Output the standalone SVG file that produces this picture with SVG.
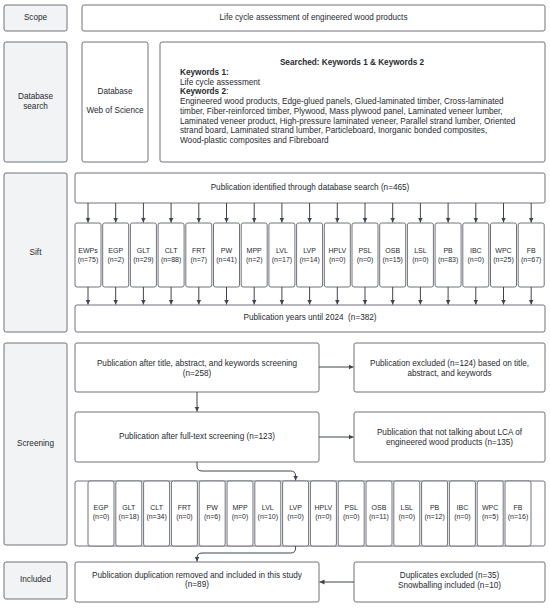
<svg xmlns="http://www.w3.org/2000/svg" width="550" height="608" viewBox="0 0 550 608">
<style>
.lbl{fill:#f2f3f5;stroke:#6e737b;stroke-width:1}
.box{fill:#ffffff;stroke:#6e737b;stroke-width:1}
text{font-family:"Liberation Sans",Arial,sans-serif;fill:#262a30;font-size:8.2px}
.c{text-anchor:middle}
.s{font-size:7px}
.b{font-weight:bold}
.ln{fill:none;stroke:#3f444c;stroke-width:1}
</style>
<defs>
<marker id="ah" markerWidth="6" markerHeight="6" refX="5" refY="3" orient="auto" markerUnits="userSpaceOnUse">
<path d="M0,0.5 L5,3 L0,5.5 Z" fill="#3f444c"/>
</marker>
</defs>
<rect width="550" height="608" fill="#ffffff"/>

<g id="scope-label"><rect class="lbl" x="4" y="5" width="63" height="26" rx="2"/><text class="c" x="35.5" y="19.5">Scope</text></g>
<g id="scope"><rect class="box" x="82" y="5" width="463" height="26" rx="2"/><text class="c" x="313.5" y="19.5">Life cycle assessment of engineered wood products</text></g>

<g id="db-label"><rect class="lbl" x="4" y="42" width="63" height="120" rx="2"/><text class="c" x="35.5" y="99">Database</text><text class="c" x="35.5" y="109">search</text></g>
<g id="database"><rect class="box" x="82" y="42" width="66" height="120" rx="2"/><text class="c" x="115" y="94">Database</text><text class="c" x="115" y="113">Web of Science</text></g>
<g id="keywords"><rect class="box" x="160" y="42" width="385" height="120" rx="2"/>
<text class="c b" x="352" y="64.5">Searched: Keywords 1 &amp; Keywords 2</text>
<text class="b" x="180" y="75">Keywords 1:</text>
<text x="180" y="84.7">Life cycle assessment</text>
<text x="180" y="94.4"><tspan class="b">Keywords 2</tspan>:</text>
<text x="180" y="104.1">Engineered wood products, Edge-glued panels, Glued-laminated timber, Cross-laminated</text>
<text x="180" y="113.8">timber, Fiber-reinforced timber, Plywood, Mass plywood panel, Laminated veneer lumber,</text>
<text x="180" y="123.5">Laminated veneer product, High-pressure laminated veneer, Parallel strand lumber, Oriented</text>
<text x="180" y="133.2">strand board, Laminated strand lumber, Particleboard, Inorganic bonded composites,</text>
<text x="180" y="142.9">Wood-plastic composites and Fibreboard</text>
</g>

<g id="sift-label"><rect class="lbl" x="4" y="173" width="63" height="159" rx="2"/><text class="c" x="35.5" y="255">Sift</text></g>
<g id="identified"><rect class="box" x="75" y="173" width="470" height="30" rx="2"/><text class="c" x="310" y="190">Publication identified through database search (n=465)</text></g>
<g id="years"><rect class="box" x="75" y="305" width="470" height="27" rx="2"/><text class="c" x="310" y="320" style="white-space:pre">Publication years until 2024  (n=382)</text></g>

<g id="sift-products">
<g id="s-ewps"><rect class="box" x="75" y="223" width="26" height="64" rx="2"/><text class="c s" x="88" y="252.5">EWPs</text><text class="c s" x="88" y="261.8">(n=75)</text></g>
<g id="s-egp"><rect class="box" x="102.7" y="223" width="26" height="64" rx="2"/><text class="c s" x="115.7" y="252.5">EGP</text><text class="c s" x="115.7" y="261.8">(n=2)</text></g>
<g id="s-glt"><rect class="box" x="130.4" y="223" width="26" height="64" rx="2"/><text class="c s" x="143.4" y="252.5">GLT</text><text class="c s" x="143.4" y="261.8">(n=29)</text></g>
<g id="s-clt"><rect class="box" x="158.1" y="223" width="26" height="64" rx="2"/><text class="c s" x="171.1" y="252.5">CLT</text><text class="c s" x="171.1" y="261.8">(n=88)</text></g>
<g id="s-frt"><rect class="box" x="185.8" y="223" width="26" height="64" rx="2"/><text class="c s" x="198.8" y="252.5">FRT</text><text class="c s" x="198.8" y="261.8">(n=7)</text></g>
<g id="s-pw"><rect class="box" x="213.5" y="223" width="26" height="64" rx="2"/><text class="c s" x="226.5" y="252.5">PW</text><text class="c s" x="226.5" y="261.8">(n=41)</text></g>
<g id="s-mpp"><rect class="box" x="241.2" y="223" width="26" height="64" rx="2"/><text class="c s" x="254.2" y="252.5">MPP</text><text class="c s" x="254.2" y="261.8">(n=2)</text></g>
<g id="s-lvl"><rect class="box" x="268.9" y="223" width="26" height="64" rx="2"/><text class="c s" x="281.9" y="252.5">LVL</text><text class="c s" x="281.9" y="261.8">(n=17)</text></g>
<g id="s-lvp"><rect class="box" x="296.6" y="223" width="26" height="64" rx="2"/><text class="c s" x="309.6" y="252.5">LVP</text><text class="c s" x="309.6" y="261.8">(n=14)</text></g>
<g id="s-hplv"><rect class="box" x="324.3" y="223" width="26" height="64" rx="2"/><text class="c s" x="337.3" y="252.5">HPLV</text><text class="c s" x="337.3" y="261.8">(n=0)</text></g>
<g id="s-psl"><rect class="box" x="352" y="223" width="26" height="64" rx="2"/><text class="c s" x="365" y="252.5">PSL</text><text class="c s" x="365" y="261.8">(n=0)</text></g>
<g id="s-osb"><rect class="box" x="379.7" y="223" width="26" height="64" rx="2"/><text class="c s" x="392.7" y="252.5">OSB</text><text class="c s" x="392.7" y="261.8">(n=15)</text></g>
<g id="s-lsl"><rect class="box" x="407.4" y="223" width="26" height="64" rx="2"/><text class="c s" x="420.4" y="252.5">LSL</text><text class="c s" x="420.4" y="261.8">(n=0)</text></g>
<g id="s-pb"><rect class="box" x="435.1" y="223" width="26" height="64" rx="2"/><text class="c s" x="448.1" y="252.5">PB</text><text class="c s" x="448.1" y="261.8">(n=83)</text></g>
<g id="s-ibc"><rect class="box" x="462.8" y="223" width="26" height="64" rx="2"/><text class="c s" x="475.8" y="252.5">IBC</text><text class="c s" x="475.8" y="261.8">(n=0)</text></g>
<g id="s-wpc"><rect class="box" x="490.5" y="223" width="26" height="64" rx="2"/><text class="c s" x="503.5" y="252.5">WPC</text><text class="c s" x="503.5" y="261.8">(n=25)</text></g>
<g id="s-fb"><rect class="box" x="518.2" y="223" width="26" height="64" rx="2"/><text class="c s" x="531.2" y="252.5">FB</text><text class="c s" x="531.2" y="261.8">(n=67)</text></g>
</g>

<g id="screening-label"><rect class="lbl" x="4" y="343" width="63" height="202" rx="2"/><text class="c" x="35.5" y="445.5">Screening</text></g>
<g id="title-screen"><rect class="box" x="75" y="343" width="244" height="49" rx="2"/><text class="c" x="197" y="365.5">Publication after title, abstract, and keywords screening</text><text class="c" x="197" y="375.5">(n=258)</text></g>
<g id="excluded1"><rect class="box" x="354" y="343" width="191" height="49" rx="2"/><text class="c" x="449.5" y="365.5">Publication excluded (n=124) based on title,</text><text class="c" x="449.5" y="375.5">abstract, and keywords</text></g>
<g id="fulltext"><rect class="box" x="75" y="412" width="244" height="50" rx="2"/><text class="c" x="197" y="439">Publication after full-text screening (n=123)</text></g>
<g id="excluded2"><rect class="box" x="354" y="412" width="191" height="50" rx="2"/><text class="c" x="449.5" y="434.5">Publication that not talking about LCA of</text><text class="c" x="449.5" y="444.5">engineered wood products (n=135)</text></g>

<g id="screen-products">
<rect class="box" x="75" y="481" width="470" height="65" rx="2"/>
<g id="r-egp"><rect class="box" x="88" y="481" width="26" height="65" rx="2"/><text class="c s" x="101" y="510.2">EGP</text><text class="c s" x="101" y="519">(n=0)</text></g>
<g id="r-glt"><rect class="box" x="115.8" y="481" width="26" height="65" rx="2"/><text class="c s" x="128.8" y="510.2">GLT</text><text class="c s" x="128.8" y="519">(n=18)</text></g>
<g id="r-clt"><rect class="box" x="143.6" y="481" width="26" height="65" rx="2"/><text class="c s" x="156.6" y="510.2">CLT</text><text class="c s" x="156.6" y="519">(n=34)</text></g>
<g id="r-frt"><rect class="box" x="171.4" y="481" width="26" height="65" rx="2"/><text class="c s" x="184.4" y="510.2">FRT</text><text class="c s" x="184.4" y="519">(n=0)</text></g>
<g id="r-pw"><rect class="box" x="199.2" y="481" width="26" height="65" rx="2"/><text class="c s" x="212.2" y="510.2">PW</text><text class="c s" x="212.2" y="519">(n=6)</text></g>
<g id="r-mpp"><rect class="box" x="227" y="481" width="26" height="65" rx="2"/><text class="c s" x="240" y="510.2">MPP</text><text class="c s" x="240" y="519">(n=0)</text></g>
<g id="r-lvl"><rect class="box" x="254.8" y="481" width="26" height="65" rx="2"/><text class="c s" x="267.8" y="510.2">LVL</text><text class="c s" x="267.8" y="519">(n=10)</text></g>
<g id="r-lvp"><rect class="box" x="282.6" y="481" width="26" height="65" rx="2"/><text class="c s" x="295.6" y="510.2">LVP</text><text class="c s" x="295.6" y="519">(n=0)</text></g>
<g id="r-hplv"><rect class="box" x="310.4" y="481" width="26" height="65" rx="2"/><text class="c s" x="323.4" y="510.2">HPLV</text><text class="c s" x="323.4" y="519">(n=0)</text></g>
<g id="r-psl"><rect class="box" x="338.2" y="481" width="26" height="65" rx="2"/><text class="c s" x="351.2" y="510.2">PSL</text><text class="c s" x="351.2" y="519">(n=0)</text></g>
<g id="r-osb"><rect class="box" x="366" y="481" width="26" height="65" rx="2"/><text class="c s" x="379" y="510.2">OSB</text><text class="c s" x="379" y="519">(n=11)</text></g>
<g id="r-lsl"><rect class="box" x="393.8" y="481" width="26" height="65" rx="2"/><text class="c s" x="406.8" y="510.2">LSL</text><text class="c s" x="406.8" y="519">(n=0)</text></g>
<g id="r-pb"><rect class="box" x="421.6" y="481" width="26" height="65" rx="2"/><text class="c s" x="434.6" y="510.2">PB</text><text class="c s" x="434.6" y="519">(n=12)</text></g>
<g id="r-ibc"><rect class="box" x="449.4" y="481" width="26" height="65" rx="2"/><text class="c s" x="462.4" y="510.2">IBC</text><text class="c s" x="462.4" y="519">(n=0)</text></g>
<g id="r-wpc"><rect class="box" x="477.2" y="481" width="26" height="65" rx="2"/><text class="c s" x="490.2" y="510.2">WPC</text><text class="c s" x="490.2" y="519">(n=5)</text></g>
<g id="r-fb"><rect class="box" x="505" y="481" width="26" height="65" rx="2"/><text class="c s" x="518" y="510.2">FB</text><text class="c s" x="518" y="519">(n=16)</text></g>
</g>

<g id="included-label"><rect class="lbl" x="4" y="562" width="63" height="37" rx="2"/><text class="c" x="35.5" y="582">Included</text></g>
<g id="included"><rect class="box" x="75" y="562" width="244" height="40" rx="2"/><text class="c" x="197" y="578">Publication duplication removed and included in this study</text><text class="c" x="197" y="587">(n=89)</text></g>
<g id="duplicates"><rect class="box" x="354" y="562" width="191" height="40" rx="2"/><text class="c" x="449.5" y="577.5">Duplicates excluded (n=35)</text><text class="c" x="449.5" y="587.5">Snowballing included (n=10)</text></g>

<g id="connectors">
<path class="ln" marker-end="url(#ah)" d="M88,203V222.5"/>
<path class="ln" marker-end="url(#ah)" d="M115.7,203V222.5"/>
<path class="ln" marker-end="url(#ah)" d="M143.4,203V222.5"/>
<path class="ln" marker-end="url(#ah)" d="M171.1,203V222.5"/>
<path class="ln" marker-end="url(#ah)" d="M198.8,203V222.5"/>
<path class="ln" marker-end="url(#ah)" d="M226.5,203V222.5"/>
<path class="ln" marker-end="url(#ah)" d="M254.2,203V222.5"/>
<path class="ln" marker-end="url(#ah)" d="M281.9,203V222.5"/>
<path class="ln" marker-end="url(#ah)" d="M309.6,203V222.5"/>
<path class="ln" marker-end="url(#ah)" d="M337.3,203V222.5"/>
<path class="ln" marker-end="url(#ah)" d="M365,203V222.5"/>
<path class="ln" marker-end="url(#ah)" d="M392.7,203V222.5"/>
<path class="ln" marker-end="url(#ah)" d="M420.4,203V222.5"/>
<path class="ln" marker-end="url(#ah)" d="M448.1,203V222.5"/>
<path class="ln" marker-end="url(#ah)" d="M475.8,203V222.5"/>
<path class="ln" marker-end="url(#ah)" d="M503.5,203V222.5"/>
<path class="ln" marker-end="url(#ah)" d="M531.2,203V222.5"/>
<path class="ln" marker-end="url(#ah)" d="M88,287V304.5"/>
<path class="ln" marker-end="url(#ah)" d="M115.7,287V304.5"/>
<path class="ln" marker-end="url(#ah)" d="M143.4,287V304.5"/>
<path class="ln" marker-end="url(#ah)" d="M171.1,287V304.5"/>
<path class="ln" marker-end="url(#ah)" d="M198.8,287V304.5"/>
<path class="ln" marker-end="url(#ah)" d="M226.5,287V304.5"/>
<path class="ln" marker-end="url(#ah)" d="M254.2,287V304.5"/>
<path class="ln" marker-end="url(#ah)" d="M281.9,287V304.5"/>
<path class="ln" marker-end="url(#ah)" d="M309.6,287V304.5"/>
<path class="ln" marker-end="url(#ah)" d="M337.3,287V304.5"/>
<path class="ln" marker-end="url(#ah)" d="M365,287V304.5"/>
<path class="ln" marker-end="url(#ah)" d="M392.7,287V304.5"/>
<path class="ln" marker-end="url(#ah)" d="M420.4,287V304.5"/>
<path class="ln" marker-end="url(#ah)" d="M448.1,287V304.5"/>
<path class="ln" marker-end="url(#ah)" d="M475.8,287V304.5"/>
<path class="ln" marker-end="url(#ah)" d="M503.5,287V304.5"/>
<path class="ln" marker-end="url(#ah)" d="M531.2,287V304.5"/>
<path class="ln" marker-end="url(#ah)" d="M319,367H353.5"/>
<path class="ln" marker-end="url(#ah)" d="M197,392V411.5"/>
<path class="ln" marker-end="url(#ah)" d="M319,437H353.5"/>
<path class="ln" marker-end="url(#ah)" d="M197,462V466Q197,471 202,471H290.6Q295.6,471 295.6,476V480.5"/>
<path class="ln" marker-end="url(#ah)" d="M295.6,546V548Q295.6,553 290.6,553H202Q197,553 197,558V561.5"/>
<path class="ln" marker-end="url(#ah)" d="M354,582H319.5"/>
</g>
</svg>
